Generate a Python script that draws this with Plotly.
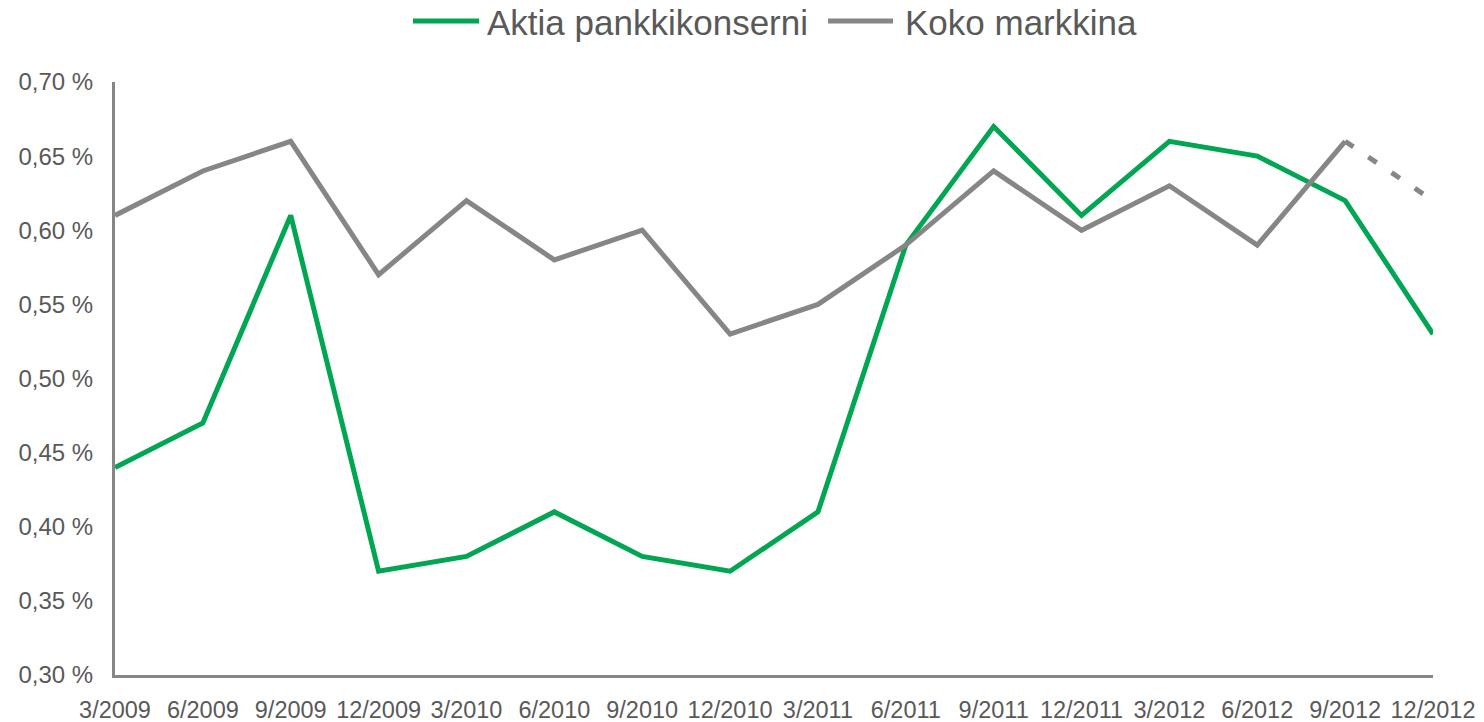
import plotly.graph_objects as go

quarters = ["3/2009", "6/2009", "9/2009", "12/2009", "3/2010", "6/2010", "9/2010", "12/2010",
            "3/2011", "6/2011", "9/2011", "12/2011", "3/2012", "6/2012", "9/2012", "12/2012"]
aktia = [0.44, 0.47, 0.61, 0.37, 0.38, 0.41, 0.38, 0.37, 0.41, 0.59, 0.67, 0.61, 0.66, 0.65, 0.62, 0.53]
markkina = [0.61, 0.64, 0.66, 0.57, 0.62, 0.58, 0.60, 0.53, 0.55, 0.59, 0.64, 0.60, 0.63, 0.59, 0.66, 0.62]
series_names = ["Aktia pankkikonserni", "Koko markkina"]
y_ticks = [0.30, 0.35, 0.40, 0.45, 0.50, 0.55, 0.60, 0.65, 0.70]
y_ticklabels = ["0,30 %", "0,35 %", "0,40 %", "0,45 %", "0,50 %", "0,55 %", "0,60 %", "0,65 %", "0,70 %"]

GREEN = "#00A651"
GRAY = "#868686"
TEXT = "#595959"
FONT = "Liberation Sans, Arial, sans-serif"

W, H = 1484, 722
L, R, T, B = 115, 51, 82, 47
PW, PH = W - L - R, H - T - B


def px_x(x):
    return (x - L) / PW


def px_y(y):
    return (H - B - y) / PH


idx = list(range(len(quarters)))

fig = go.Figure()
fig.add_trace(go.Scatter(x=idx, y=aktia, mode="lines", name=series_names[0],
                         line=dict(color=GREEN, width=5), cliponaxis=False, showlegend=False))
fig.add_trace(go.Scatter(x=idx[:15], y=markkina[:15], mode="lines", name=series_names[1],
                         line=dict(color=GRAY, width=5), cliponaxis=False, showlegend=False))
fig.add_trace(go.Scatter(x=idx[14:], y=markkina[14:], mode="lines", name=series_names[1] + " (ennuste)",
                         line=dict(color=GRAY, width=5, dash="10px,18px"), cliponaxis=False,
                         showlegend=False))

# custom legend (long line samples, like the original)
legend_items = [(GREEN, series_names[0], 413, 479, 486), (GRAY, series_names[1], 828, 893, 904)]
for color, name, x0, x1, xt in legend_items:
    fig.add_shape(type="line", xref="paper", yref="paper",
                  x0=px_x(x0), x1=px_x(x1), y0=px_y(21), y1=px_y(21),
                  line=dict(color=color, width=5))
    fig.add_annotation(xref="paper", yref="paper", x=px_x(xt), y=px_y(22),
                       xanchor="left", yanchor="middle", text=name, showarrow=False,
                       font=dict(size=35, color=TEXT, family=FONT), borderpad=0)

fig.update_layout(
    width=W, height=H,
    margin=dict(l=L, r=R, t=T, b=B, autoexpand=False),
    paper_bgcolor="white", plot_bgcolor="white",
    font=dict(family=FONT, color=TEXT),
    showlegend=False,
)
fig.update_xaxes(range=[0, 15], tickvals=idx, ticktext=quarters, showgrid=False,
                 zeroline=False, showline=True, linecolor=GRAY, linewidth=3,
                 ticks="", tickfont=dict(size=23.5, color=TEXT), ticklabelstandoff=12,
                 automargin=False)
fig.update_yaxes(range=[0.30, 0.70], tickvals=y_ticks, ticktext=y_ticklabels, showgrid=False,
                 zeroline=False, showline=True, linecolor=GRAY, linewidth=3,
                 ticks="", tickfont=dict(size=24, color=TEXT), ticklabelstandoff=14,
                 automargin=False)

fig.write_html("out.html", config={"displayModeBar": False},
               post_script="document.body.style.margin='0';document.body.style.overflow='hidden';")
